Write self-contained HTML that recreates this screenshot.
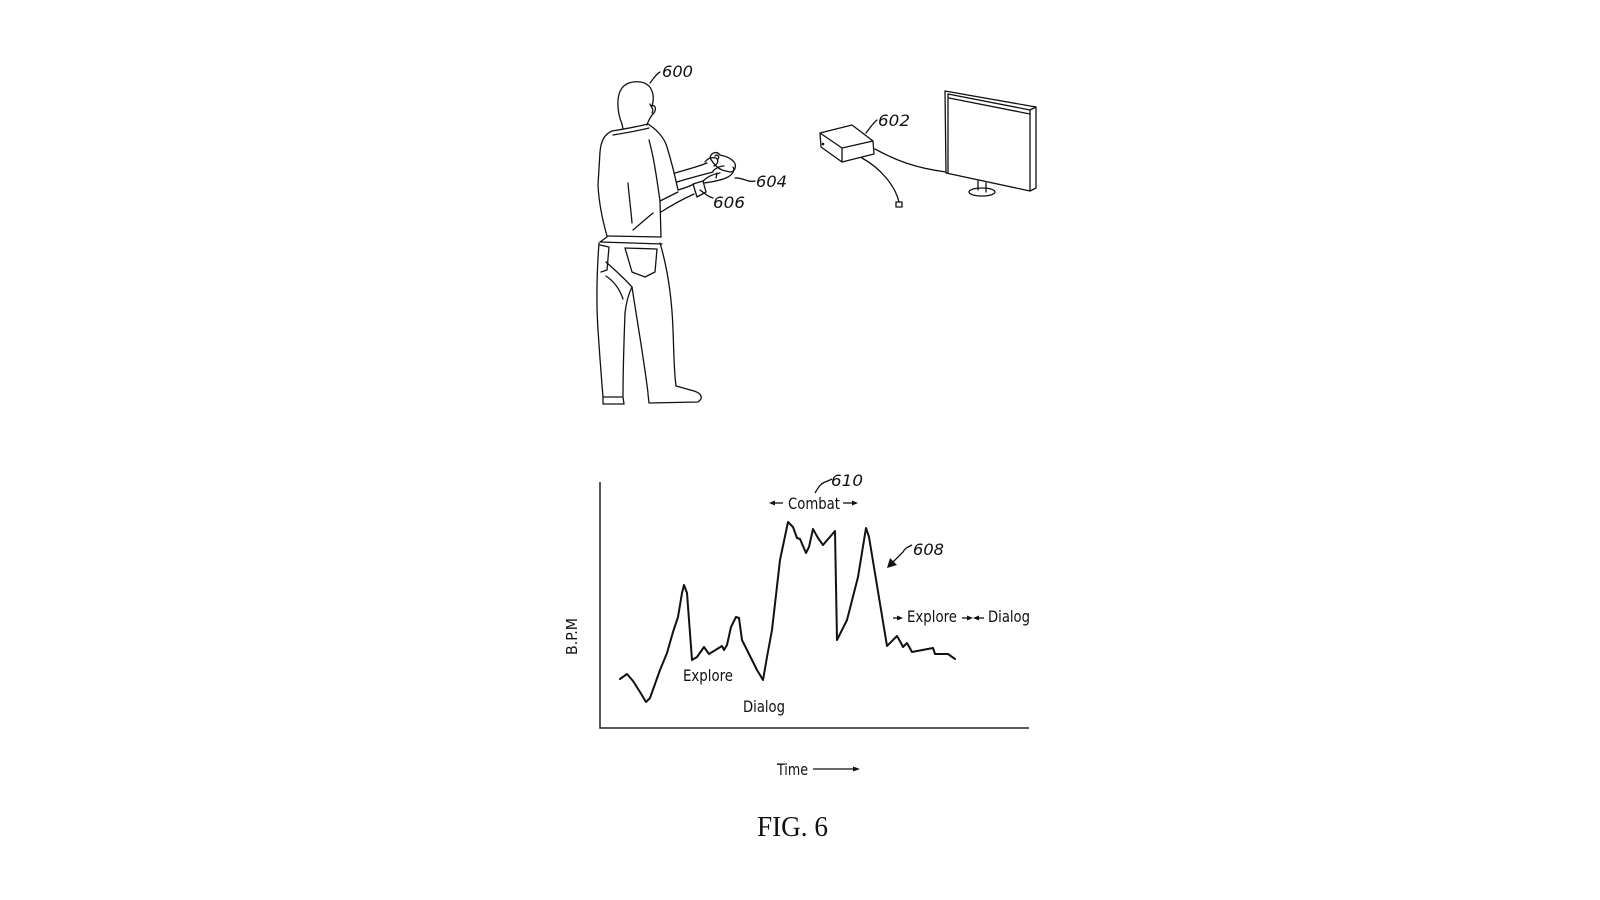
<!DOCTYPE html>
<html>
<head>
<meta charset="utf-8">
<style>
  html,body{margin:0;padding:0;background:#fff;}
  svg{display:block;}
  .la{fill:none;stroke:#111;stroke-width:1.3;stroke-linejoin:round;stroke-linecap:round;}
  .num{font-family:"DejaVu Sans","Liberation Sans",sans-serif;font-style:italic;font-size:16px;fill:#111;}
  .lbl{font-family:"DejaVu Sans Condensed","DejaVu Sans","Liberation Sans",sans-serif;font-size:16px;fill:#111;}
</style>
</head>
<body>
<svg width="1600" height="900" viewBox="0 0 1600 900" xmlns="http://www.w3.org/2000/svg">
  <rect width="1600" height="900" fill="#fff"/>

  <!-- ===== Person 600 ===== -->
  <g class="la">
    <!-- head -->
    <path d="M622,124 C617,112 616,96 622,88 C628,80 643,80 649,86 C654,92 654,100 652,106 C656,104 657,111 652,115 C650,118 648,121 647,125"/>
    <path d="M650,104 C652,108 654,110 652,113"/>
    <path d="M622,124 L623,129"/>
    <!-- collar -->
    <path d="M612,131 C624,129 636,127 648,124"/>
    <path d="M613,135 C625,133 637,131 649,128"/>
    <!-- torso -->
    <path d="M612,131 C605,134 601,140 600,152 L598,185 C599,205 603,222 607,236"/>
    <path d="M648,124 C656,129 664,137 667,147"/>
    <!-- sleeve -->
    <path d="M649,140 C654,158 657,180 660,201"/>
    <path d="M667,147 C671,160 675,176 678,190"/>
    <path d="M660,201 L678,192"/>
    <path d="M660,201 L661,237"/>
    <!-- back folds -->
    <path d="M628,183 C629,196 631,210 632,223"/>
    <path d="M633,230 C640,224 647,218 653,213"/>
    <!-- shirt bottom -->
    <path d="M607,236 L661,237"/>
    <!-- far arm -->
    <path d="M675,173 C685,170 697,167 707,163"/>
    <path d="M677,182 C690,178 702,175 713,172"/>
    <!-- near forearm -->
    <path d="M678,190 C685,188 690,186 694,184"/>
    <path d="M661,212 C672,205 683,199 694,194"/>
    <!-- watch 606 -->
    <path d="M693,184 L703,181 L706,192 L697,197 Z"/>
    <!-- near hand -->
    <path d="M704,183 C712,182 722,180 728,177 C733,174 735,170 733,167"/>
    <path d="M703,181 C708,176 714,174 720,173"/>
    <path d="M716,178 L717,173"/>
    <!-- far hand -->
    <path d="M705,162 C708,158 712,157 716,158 C719,160 718,164 714,166"/>
    <path d="M713,171 C716,168 720,166 724,166"/>
    <!-- controller -->
    <path d="M710,158 C711,152 717,151 720,155 C725,156 731,158 734,162 C737,166 735,172 730,172 L722,170 C717,168 713,163 710,158 Z"/>
    <path d="M715,156 C717,154 720,156 718,159" />
    <!-- belt -->
    <path d="M600,242 L662,244"/>
    <path d="M607,237 L600,242"/>
    <!-- pants -->
    <path d="M599,243 C597,270 596,300 598,330 C600,360 602,385 603,397"/>
    <path d="M600,245 L609,247 L607,270 L601,272"/>
    <path d="M606,262 C615,270 625,279 632,287"/>
    <path d="M632,287 C628,295 626,304 625,313 C624,340 623,370 623,396"/>
    <path d="M632,287 C637,320 644,360 648,393"/>
    <path d="M660,243 C668,270 672,300 673,330 C674,355 674,372 676,386"/>
    <path d="M625,248 L657,249 L655,272 L645,277 L632,272 Z"/>
    <path d="M606,276 C615,282 620,290 623,299"/>
    <!-- shoes -->
    <path d="M603,397 L603,404 L624,404 L623,397 Z"/>
    <path d="M648,394 L649,403 L698,402 C704,398 701,393 694,391 L676,386"/>
  </g>
  <!-- leaders -->
  <g class="la">
    <path d="M650,83 C654,78 656,74 660,72"/>
    <path d="M735,178 C742,177 748,183 755,181"/>
    <path d="M700,190 C705,194 709,197 713,198"/>
    <path d="M866,133 C870,128 873,123 877,120"/>
  </g>
  <text class="num" x="662" y="77" textLength="31" lengthAdjust="spacingAndGlyphs">600</text>
  <text class="num" x="756" y="187" textLength="31" lengthAdjust="spacingAndGlyphs">604</text>
  <text class="num" x="713" y="208" textLength="32" lengthAdjust="spacingAndGlyphs">606</text>
  <text class="num" x="878" y="126" textLength="32" lengthAdjust="spacingAndGlyphs">602</text>

  <!-- ===== Console 602 ===== -->
  <g class="la">
    <path d="M820,133 L852,125 L873,141 L842,148 Z"/>
    <path d="M820,133 L821,147 L842,162 L842,148"/>
    <path d="M842,162 L874,154 L873,141"/>
    <path d="M875,149 C895,160 915,168 946,172"/>
    <path d="M862,158 C880,168 895,185 899,202"/>
    <rect x="896" y="202" width="6" height="5"/>
  </g>
  <circle cx="823" cy="144" r="1.3" fill="#111"/>

  <!-- ===== Monitor ===== -->
  <g class="la">
    <path d="M945,91 L1036,107 L1036,188 L1030,191 L946,173 Z"/>
    <path d="M948,94 L1030,110 L1030,191"/>
    <path d="M948,94 L948,173"/>
    <path d="M949,98 L1030,114"/>
    <path d="M1030,110 L1036,107"/>
    <path d="M978,181 L978,190 M986,183 L986,192"/>
    <ellipse cx="982" cy="192" rx="13" ry="4"/>
  </g>

  <!-- ===== Graph ===== -->
  <g fill="none" stroke="#222" stroke-width="1.5">
    <path d="M600,482 L600,728 L1029,728"/>
  </g>
  <polyline fill="none" stroke="#111" stroke-width="2" stroke-linejoin="round" stroke-linecap="round"
    points="620,679 627,674 633,681 640,692 646,702 650,698 660,670 667,653 673,632 678,617 682,593 684,585 687,593 692,660 697,657 704,647 709,654 722,646 724,650 727,645 731,627 736,617 739,618 742,640 747,650 757,670 763,680 767,657 772,630 780,560 788,522 793,527 797,538 800,539 806,553 809,547 813,529 818,538 823,545 835,531 837,640 847,620 858,577 866,528 869,537 887,646 897,636 901,643 903,647 907,643 912,652 933,648 935,654 948,654 955,659"/>

  <text class="lbl" x="0" y="0" transform="translate(577,655) rotate(-90)" textLength="37" lengthAdjust="spacingAndGlyphs" style="font-size:15px">B.P.M</text>

  <text class="lbl" x="683" y="681" textLength="50" lengthAdjust="spacingAndGlyphs">Explore</text>
  <text class="lbl" x="743" y="712" textLength="42" lengthAdjust="spacingAndGlyphs">Dialog</text>
  <text class="lbl" x="788" y="509" textLength="52" lengthAdjust="spacingAndGlyphs">Combat</text>
  <text class="lbl" x="907" y="622" textLength="50" lengthAdjust="spacingAndGlyphs">Explore</text>
  <text class="lbl" x="988" y="622" textLength="42" lengthAdjust="spacingAndGlyphs">Dialog</text>
  <text class="lbl" x="777" y="775" textLength="31" lengthAdjust="spacingAndGlyphs">Time</text>

  <text class="num" x="831" y="486" textLength="32" lengthAdjust="spacingAndGlyphs">610</text>
  <text class="num" x="913" y="555" textLength="31" lengthAdjust="spacingAndGlyphs">608</text>

  <g stroke="#111" stroke-width="1.3" fill="none">
    <!-- combat arrows -->
    <path d="M772,503 L783,503"/>
    <path d="M843,503 L855,503"/>
    <!-- explore/dialog arrows -->
    <path d="M893,618 L900,618"/>
    <path d="M962,618 L970,618"/>
    <path d="M976,618 L984,618"/>
    <!-- time arrow -->
    <path d="M813,769 L856,769"/>
    <!-- 610 leader -->
    <path d="M815,493 C818,488 820,484 825,482 C828,481 830,480 832,479"/>
    <!-- 608 arrow -->
    <path d="M912,545 C908,547 905,548 903,552 L892,563"/>
  </g>
  <g fill="#111">
    <polygon points="769,503 775,500.5 775,505.5"/>
    <polygon points="858,503 852,500.5 852,505.5"/>
    <polygon points="903,618 897,615.5 897,620.5"/>
    <polygon points="973,618 967,615.5 967,620.5"/>
    <polygon points="973,618 979,615.5 979,620.5"/>
    <polygon points="860,769 853,766.5 853,771.5"/>
    <polygon points="887,568 890,558 897,565"/>
  </g>

  <text x="792.5" y="836" text-anchor="middle" textLength="71" lengthAdjust="spacingAndGlyphs"
    style="font-family:'Liberation Serif',serif;font-size:28px;fill:#111;">FIG. 6</text>
</svg>
</body>
</html>
